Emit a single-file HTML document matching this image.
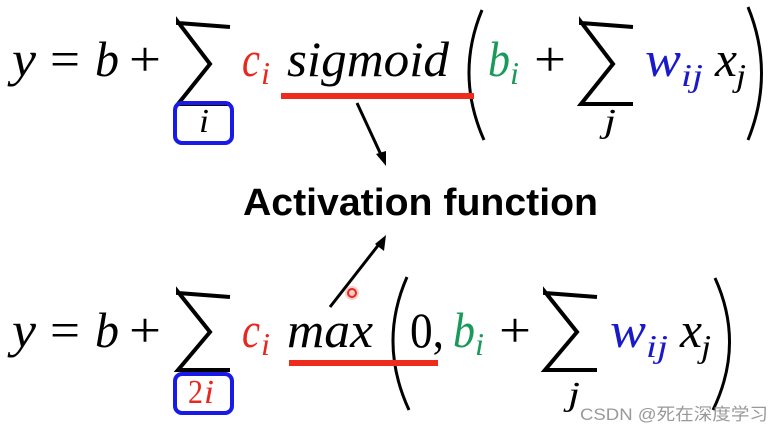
<!DOCTYPE html>
<html><head><meta charset="utf-8"><style>
html,body{margin:0;padding:0;background:#fff;}
svg{display:block}
.m{font-family:"Liberation Serif",serif;font-style:italic;}
</style></head><body>
<svg width="784" height="432" viewBox="0 0 784 432" xmlns="http://www.w3.org/2000/svg">
<g class="m" font-size="50">
 <!-- top row -->
 <text x="12" y="76" textLength="24" lengthAdjust="spacingAndGlyphs">y</text>
 <text x="50" y="76" font-style="normal" textLength="30" lengthAdjust="spacingAndGlyphs">=</text>
 <text x="95" y="76" textLength="24" lengthAdjust="spacingAndGlyphs">b</text>
 <text x="129" y="76" font-style="normal" textLength="32" lengthAdjust="spacingAndGlyphs">+</text>
 <text x="242" y="76" fill="#e8281e" textLength="18" lengthAdjust="spacingAndGlyphs">c</text>
 <text x="261" y="84" fill="#e8281e" font-size="32" textLength="9" lengthAdjust="spacingAndGlyphs">i</text>
 <text x="287" y="76" textLength="162" lengthAdjust="spacingAndGlyphs">sigmoid</text>
 <text x="488" y="76" fill="#1a9a5a" textLength="22" lengthAdjust="spacingAndGlyphs">b</text>
 <text x="510" y="84" fill="#1a9a5a" font-size="32" textLength="9" lengthAdjust="spacingAndGlyphs">i</text>
 <text x="534" y="76" font-style="normal" textLength="32" lengthAdjust="spacingAndGlyphs">+</text>
 <text x="645" y="76" fill="#1a1ac8" textLength="36" lengthAdjust="spacingAndGlyphs">w</text>
 <text x="681" y="86" fill="#1a1ac8" font-size="32" textLength="22" lengthAdjust="spacingAndGlyphs">ij</text>
 <text x="715" y="76" textLength="22" lengthAdjust="spacingAndGlyphs">x</text>
 <text x="736" y="86" font-size="32" textLength="10" lengthAdjust="spacingAndGlyphs">j</text>
 <text x="199" y="132" font-size="34" textLength="10" lengthAdjust="spacingAndGlyphs">i</text>
 <text x="604" y="132" font-size="34" textLength="12" lengthAdjust="spacingAndGlyphs">j</text>
 <!-- bottom row -->
 <text x="12" y="347" textLength="24" lengthAdjust="spacingAndGlyphs">y</text>
 <text x="50" y="347" font-style="normal" textLength="30" lengthAdjust="spacingAndGlyphs">=</text>
 <text x="95" y="347" textLength="24" lengthAdjust="spacingAndGlyphs">b</text>
 <text x="129" y="347" font-style="normal" textLength="32" lengthAdjust="spacingAndGlyphs">+</text>
 <text x="242" y="347" fill="#e8281e" textLength="18" lengthAdjust="spacingAndGlyphs">c</text>
 <text x="261" y="355" fill="#e8281e" font-size="32" textLength="9" lengthAdjust="spacingAndGlyphs">i</text>
 <text x="287" y="347" textLength="86" lengthAdjust="spacingAndGlyphs">max</text>
 <text x="410" y="347" font-style="normal" textLength="34" lengthAdjust="spacingAndGlyphs">0,</text>
 <text x="453" y="347" fill="#1a9a5a" textLength="22" lengthAdjust="spacingAndGlyphs">b</text>
 <text x="475" y="355" fill="#1a9a5a" font-size="32" textLength="9" lengthAdjust="spacingAndGlyphs">i</text>
 <text x="499" y="347" font-style="normal" textLength="32" lengthAdjust="spacingAndGlyphs">+</text>
 <text x="610" y="347" fill="#1a1ac8" textLength="36" lengthAdjust="spacingAndGlyphs">w</text>
 <text x="646" y="357" fill="#1a1ac8" font-size="32" textLength="22" lengthAdjust="spacingAndGlyphs">ij</text>
 <text x="680" y="347" textLength="22" lengthAdjust="spacingAndGlyphs">x</text>
 <text x="701" y="357" font-size="32" textLength="10" lengthAdjust="spacingAndGlyphs">j</text>
 <text x="188" y="403" font-style="normal" font-size="34" fill="#e8281e" textLength="15" lengthAdjust="spacingAndGlyphs">2</text>
 <text x="204" y="403" font-size="34" fill="#e8281e" textLength="10" lengthAdjust="spacingAndGlyphs">i</text>
 <text x="568" y="405" font-size="34" textLength="12" lengthAdjust="spacingAndGlyphs">j</text>
</g>
<!-- sums -->
<g fill="none" stroke="#000" stroke-width="4">
 <polyline points="230,27 178,23 178,22 210,64 178,104 230,104" stroke-linejoin="miter"/>
 <polyline points="633,27 581,23 581,22 613,64 581,104 633,104"/>
 <polyline points="230,297 178,293 178,292 210,332 178,370 230,370"/>
 <polyline points="597,297 545,293 545,292 577,332 545,370 597,370"/>
 <path d="M482,10 Q455,75 484,140" stroke-width="3"/>
 <path d="M748,7 Q775,73 748,140" stroke-width="3"/>
 <path d="M407,277 Q378,343 409,410" stroke-width="3"/>
 <path d="M715,278 Q745,344 713,410" stroke-width="3"/>
</g>
<!-- boxes -->
<rect x="175" y="103" width="57" height="40" rx="7" fill="none" stroke="#1a1ae6" stroke-width="4"/>
<rect x="175" y="374" width="57" height="39" rx="7" fill="none" stroke="#1a1ae6" stroke-width="4"/>
<!-- red underlines -->
<rect x="281" y="93" width="193" height="6" fill="#ee2b1c"/>
<rect x="289" y="360" width="149" height="6" fill="#ee2b1c"/>
<!-- arrows -->
<g stroke="#000" stroke-width="3" fill="#000">
 <line x1="357" y1="103" x2="382" y2="157"/>
 <polygon points="386,166 376,154 386,151" stroke="none"/>
 <line x1="330" y1="307" x2="380" y2="243"/>
 <polygon points="386,235 384,251 375,244" stroke="none"/>
</g>
<circle cx="352" cy="293" r="7" fill="#f5b0a8" opacity="0.6"/>
<circle cx="352" cy="293" r="4" fill="none" stroke="#e8281e" stroke-width="2"/>
<text x="243" y="215" font-family="'Liberation Sans',sans-serif" font-weight="bold" font-size="38" textLength="355" lengthAdjust="spacingAndGlyphs">Activation function</text>
<text x="580" y="420" font-family="'Liberation Sans','Noto Sans CJK SC',sans-serif" font-size="17" fill="#999" textLength="188" lengthAdjust="spacingAndGlyphs">CSDN @死在深度学习</text>
</svg>
</body></html>
